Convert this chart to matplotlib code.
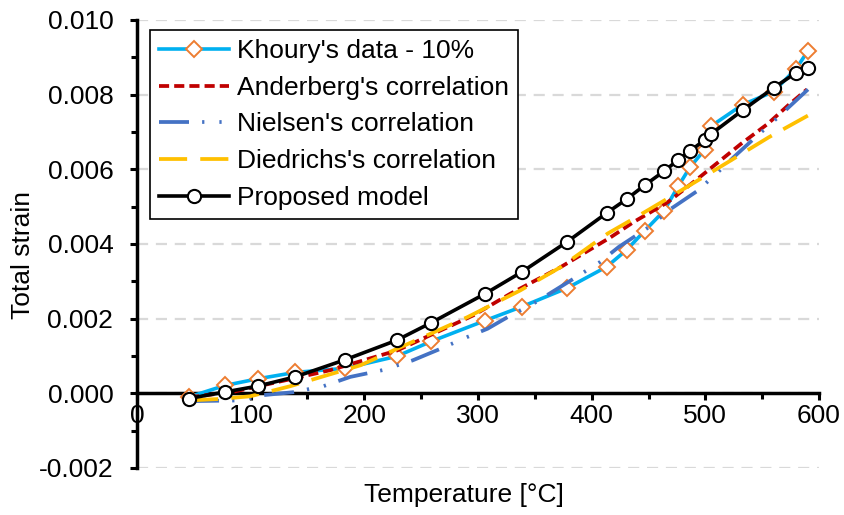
import matplotlib
matplotlib.use("Agg")
import matplotlib.pyplot as plt
from matplotlib.ticker import MultipleLocator, FuncFormatter

plt.rcParams['font.family'] = ['Liberation Sans', 'DejaVu Sans']

# Khoury's data (10%) and the proposed model share the same temperatures
temps = [45.5, 77.3, 106.5, 139.2, 183.2, 228.4, 258.8, 306.4, 338.5, 378.5, 413.2,
         430.7, 446.9, 463.7, 476.0, 486.6, 499.5, 505.2, 532.7, 560.0, 580.0, 590.0]
khoury = [-0.00010, 0.00021, 0.00039, 0.00056, 0.00067, 0.00099, 0.00139, 0.00195,
          0.00232, 0.00282, 0.00339, 0.00384, 0.00436, 0.00489, 0.00554, 0.00606,
          0.00653, 0.00716, 0.00773, 0.00808, 0.00870, 0.00916]
model = [-0.00014, 0.000035, 0.000195, 0.00044, 0.00090, 0.00142, 0.00189, 0.00267,
         0.00325, 0.00406, 0.00483, 0.00520, 0.00558, 0.00595, 0.00625, 0.00649,
         0.00679, 0.00695, 0.00758, 0.00818, 0.00859, 0.00871]

# correlations
and_t = [45.8, 84.6, 132.2, 170, 229, 296, 328.6, 372.7, 416.7, 437, 467, 493.4, 531.3, 555, 572.7, 589.4]
and_e = [-0.000107, 0.00004, 0.00036, 0.00062, 0.00115, 0.00209, 0.00267, 0.00338,
         0.00418, 0.00459, 0.00512, 0.00575, 0.00668, 0.00722, 0.00771, 0.00814]

nie_t = [45.8, 90.7, 111, 137.4, 163.9, 187.7, 215.9, 242.3, 265.2, 290.7, 308.4, 326,
         350.7, 384.1, 407, 423.8, 450.2, 469.6, 493.4, 513.7, 525.1, 542.7, 563, 590.3]
nie_e = [-0.00021, -0.00019, -0.00005, 0.00003, 0.00019, 0.00044, 0.00062, 0.00088,
         0.00117, 0.00151, 0.00173, 0.00204, 0.00244, 0.00307, 0.00351, 0.00392,
         0.00445, 0.00494, 0.00543, 0.00600, 0.00633, 0.00682, 0.00737, 0.00814]

die_t = [46.7, 73.1, 99.6, 134.8, 161.2, 196.5, 290.7, 337.4, 372.7, 414.1, 437, 471.4,
         496, 522.5, 555.9, 590.3]
die_e = [-0.00019, -0.00015, -0.00008, 0.00019, 0.00043, 0.00075, 0.00204, 0.00276,
         0.00338, 0.00428, 0.00468, 0.00530, 0.00575, 0.00624, 0.00686, 0.00744]

fig = plt.figure(figsize=(8.44, 5.15), dpi=100)
ax = fig.add_axes([0.1623, 0.0913, 0.8081, 0.8699])

ax.plot(temps, khoury, color='#00B0F0', lw=2.6, marker='D', ms=8.5,
        mfc='white', mec='#ED7D31', mew=1.4, label="Khoury's data - 10%", zorder=3)
ax.plot(and_t, and_e, color='#C00000', lw=2.7, dashes=(2.7, 1.35),
        label="Anderberg's correlation", zorder=4)
ax.plot(nie_t, nie_e, color='#4472C4', lw=2.7, dashes=(8.0, 3.5, 0.6, 4.0, 0.6, 3.5),
        label="Nielsen's correlation", zorder=4)
ax.plot(die_t, die_e, color='#FFC000', lw=2.7, dashes=(7.5, 3.5),
        label="Diedrichs's correlation", zorder=4)
ax.plot(temps, model, color='black', lw=2.6, marker='o', ms=9.5,
        mfc='white', mec='black', mew=1.5, label='Proposed model', zorder=5)

ax.set_xlim(0, 600)
ax.set_ylim(-0.002, 0.010)
ax.xaxis.set_major_locator(MultipleLocator(100))
ax.xaxis.set_minor_locator(MultipleLocator(50))
ax.yaxis.set_major_locator(MultipleLocator(0.002))
ax.yaxis.set_minor_locator(MultipleLocator(0.001))
ax.yaxis.set_major_formatter(FuncFormatter(lambda v, p: f"{v:.3f}".replace('-0.000', '0.000')))

ax.spines['top'].set_visible(False)
ax.spines['right'].set_visible(False)
ax.spines['bottom'].set_position(('data', 0))
for s in ('left', 'bottom'):
    ax.spines[s].set_linewidth(2.5)

ax.tick_params(axis='both', which='both', direction='out', width=2.2, labelsize=19)
ax.tick_params(axis='both', which='major', length=5)
ax.tick_params(axis='both', which='minor', length=4)
ax.tick_params(axis='y', which='major', pad=12)
ax.tick_params(axis='x', which='major', pad=3)

ax.grid(axis='y', which='major', color='#D9D9D9', lw=1.6, dashes=(5, 3.5))
ax.set_axisbelow(True)

# axis titles sit at the figure edges, not next to the zero line
fig.text(464 / 844, 1 - 495 / 515, 'Temperature [°C]', fontsize=19, ha='center', va='center')
fig.text(23 / 844, 1 - 255 / 515, 'Total strain', fontsize=19, rotation=90,
         ha='center', va='center')

leg = ax.legend(loc='upper left', bbox_to_anchor=(0.019, 0.978), borderaxespad=0,
                fontsize=19, frameon=True, fancybox=False, edgecolor='black',
                framealpha=1, handlelength=2.65, handletextpad=0.3,
                labelspacing=0.48, borderpad=0.35)
leg.get_frame().set_linewidth(1.2)

fig.savefig('out.png', dpi=100)
